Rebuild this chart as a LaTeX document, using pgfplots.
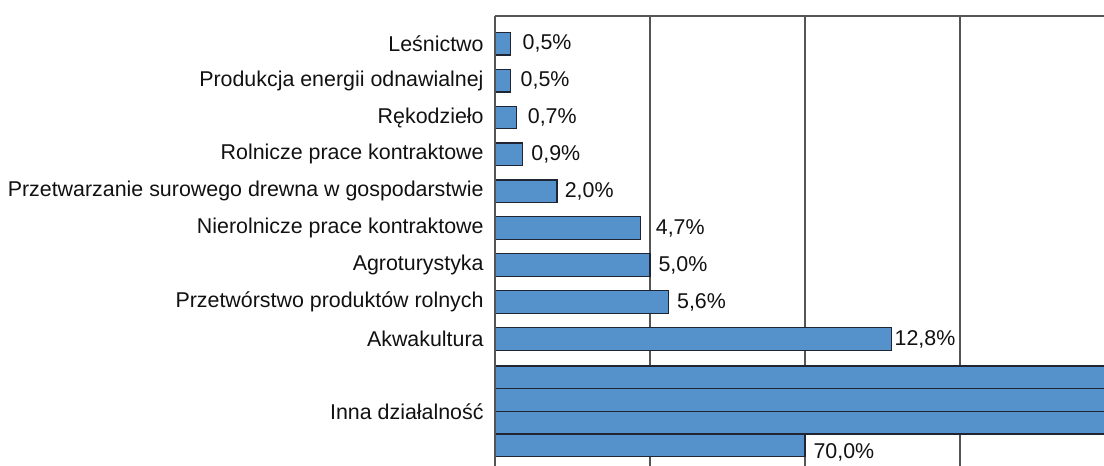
\documentclass[border=0pt]{standalone}
\usepackage{pgfplots}
\pgfplotsset{compat=1.18}
\usepackage{fontspec}
\setmainfont{Liberation Sans}
\definecolor{barblue}{HTML}{5592CB}
\definecolor{gridc}{HTML}{555555}
\definecolor{edgec}{HTML}{1F2533}
\definecolor{txt}{HTML}{111111}
\begin{document}
\begin{tikzpicture}
\begin{axis}[
  name=ax,
  scale only axis,
  width=304.5pt, height=225pt,
  xmin=0, xmax=19.65,
  ymin=-12.444, ymax=-0.249,
  axis line style={draw=none},
  clip mode=individual,
  xtick={5,10,15},
  xticklabels={},
  xmajorgrids,
  major grid style={draw=gridc, line width=0.8pt},
  ytick={-1,-2,-3,-4,-5,-6,-7,-8,-9,-10.96},
  yticklabels={Leśnictwo,Produkcja energii odnawialnej,Rękodzieło,Rolnicze prace kontraktowe,Przetwarzanie surowego drewna w gospodarstwie,Nierolnicze prace kontraktowe,Agroturystyka,Przetwórstwo produktów rolnych,Akwakultura,Inna działalność},
  major tick length=0pt,
  yticklabel style={font=\fontsize{10.7}{12}\selectfont, text=txt, inner sep=0pt, xshift=-5.5pt},
  xbar, bar width=0.615, bar shift=0pt,
  point meta=explicit,
  /pgf/number format/assume math mode=true,
  every node near coord/.append style={font=\fontsize{10.7}{12}\selectfont, text=txt, anchor=west, inner sep=0pt},
]
\addplot[fill=barblue, draw=edgec, line width=0.6pt, bar shift=0pt,
  visualization depends on={\thisrow{dx} \as \dx},
  nodes near coords={\pgfmathprintnumber[fixed, fixed zerofill, precision=1, use comma, assume math mode=true]{\pgfplotspointmeta}\%},
  every node near coord/.append style={xshift=\dx pt}]
  table[x=v, y=y, meta=m] {
v    y   m     dx
0.5  -1  0.5   5.8
0.5  -2  0.5   4.8
0.7  -3  0.7   5.3
0.9  -4  0.9   4.0
2.0  -5  2.0   3.6
4.7  -6  4.7   7.3
5.0  -7  5.0   4.0
5.6  -8  5.6   4.0
12.8 -9  12.8  1.2
};
\addplot[fill=barblue, draw=edgec, line width=0.6pt, bar shift=0pt]
  table[x=v, y=y] {
v   y
20  -10.04
20  -10.655
20  -11.27
};
\addplot[fill=barblue, draw=edgec, line width=0.6pt, bar shift=0pt,
  nodes near coords={\pgfmathprintnumber[fixed, fixed zerofill, precision=1, use comma, assume math mode=true]{\pgfplotspointmeta}\%},
  every node near coord/.append style={xshift=4pt, yshift=-3.5pt}]
  table[x=v, y=y, meta=m] {
v   y       m
10  -11.885 70.0
};
\draw[gridc, line width=0.8pt] (rel axis cs:0,1) -- (rel axis cs:1,1);
\draw[gridc, line width=0.8pt] (rel axis cs:0,0) -- (rel axis cs:0,1);
\end{axis}
\pgfresetboundingbox
\path ([xshift=-247.5pt, yshift=8pt]ax.north west) rectangle (ax.south east);
\end{tikzpicture}
\end{document}
